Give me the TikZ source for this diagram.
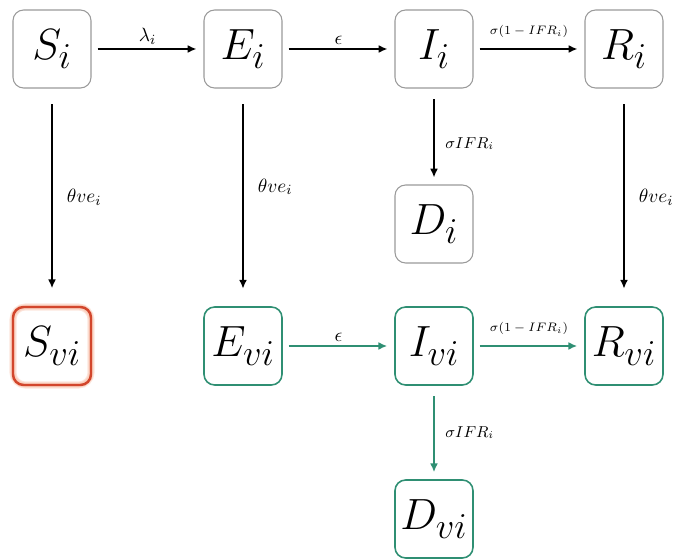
\documentclass[tikz,border=0pt]{standalone}
\usepackage{amsmath}
\usepackage{tikz}
\usetikzlibrary{arrows.meta, positioning}
\definecolor{boxgray}{HTML}{9A9A9A}
\definecolor{vacgreen}{HTML}{2F8F73}
\definecolor{susred}{HTML}{D2462C}
\definecolor{susglow}{HTML}{F7B9A0}

\tikzset{
  comp/.style={draw=boxgray, line width=0.6pt, rounded corners=6pt,
    minimum width=1.56cm, minimum height=1.56cm, inner sep=0pt,
    font=\fontsize{32}{36}\selectfont},
  vcomp/.style={comp, draw=vacgreen, line width=0.9pt},
  flow/.style={-{Latex[length=5pt,width=4.5pt]}, line width=0.9pt,
    shorten >=4pt, shorten <=3.5pt},
  vflow/.style={flow, draw=vacgreen, fill=vacgreen},
  down/.style={shorten <=9pt, shorten >=10pt},
  rate/.style={font=\fontsize{11}{13}\selectfont, inner sep=2pt},
  srate/.style={font=\fontsize{7.5}{9}\selectfont, inner sep=2pt}
}

\begin{document}
\begin{tikzpicture}[x=0.02cm, y=-0.02cm]
  \useasboundingbox (0,0) rectangle (687,560);

  % unvaccinated row
  \node[comp] (Si) at (52, 49) {$S_i$};
  \node[comp] (Ei) at (243, 49) {$E_i$};
  \node[comp] (Ii) at (434, 49) {$I_i$};
  \node[comp] (Ri) at (624, 49) {$R_i$};
  \node[comp] (Di) at (434, 224) {$D_i$};

  % vaccinated row
  \foreach \r in {4,3,2} {
    \draw[susglow, opacity=0.35, line width=\r pt, rounded corners=7pt]
      (13,307) rectangle (91,385);
  }
  \node[comp, draw=susred, line width=1.4pt] (Svi) at (52, 346) {$S_{vi}$};
  \node[vcomp] (Evi) at (243, 346) {$E_{vi}$};
  \node[vcomp] (Ivi) at (434, 346) {$I_{vi}$};
  \node[vcomp] (Rvi) at (624, 346) {$R_{vi}$};
  \node[vcomp] (Dvi) at (434, 519) {$D_{vi}$};

  % flows
  \draw[flow] (Si) -- node[rate, above] {$\lambda_i$} (Ei);
  \draw[flow] (Ei) -- node[rate, above] {$\epsilon$} (Ii);
  \draw[flow] (Ii) -- node[srate, above, yshift=4pt] {$\sigma(1-IFR_i)$} (Ri);
  \draw[flow, shorten <=6pt] (Ii) -- node[rate, right, font=\small, xshift=4pt, yshift=-4pt] {$\sigma IFR_i$} (Di);
  \draw[flow, down] (Si) -- node[rate, right, xshift=6pt] {$\theta ve_i$} (Svi);
  \draw[flow, down] (Ei) -- node[rate, right, xshift=6pt, yshift=6pt] {$\theta ve_i$} (Evi);
  \draw[flow, down] (Ri) -- node[rate, right, xshift=6pt] {$\theta ve_i$} (Rvi);

  \draw[vflow] (Evi) -- node[rate, above, black] {$\epsilon$} (Ivi);
  \draw[vflow] (Ivi) -- node[srate, above, yshift=4pt, black] {$\sigma(1-IFR_i)$} (Rvi);
  \draw[vflow, shorten <=6pt] (Ivi) -- node[rate, right, font=\small, xshift=4pt, black] {$\sigma IFR_i$} (Dvi);
\end{tikzpicture}
\end{document}
